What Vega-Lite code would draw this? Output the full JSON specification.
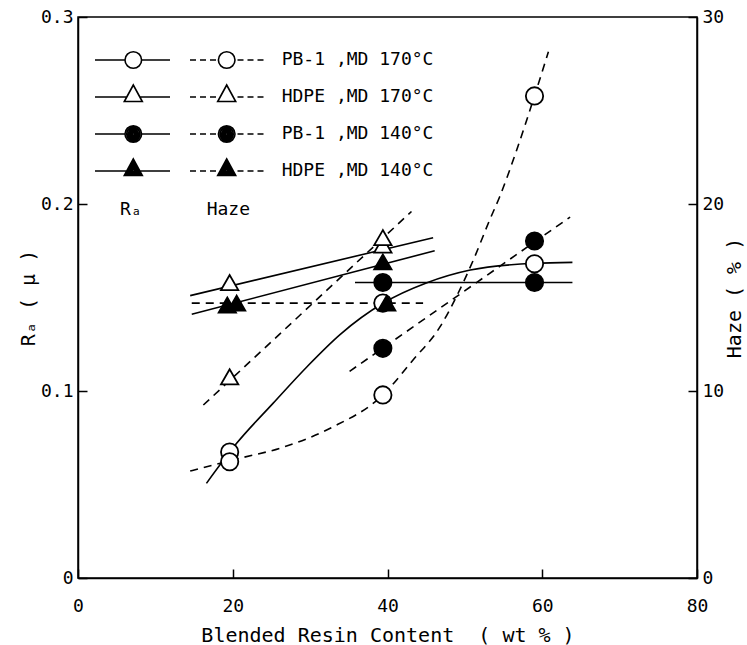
{
  "$schema": "https://vega.github.io/schema/vega-lite/v6.json",
  "width": 619,
  "height": 561,
  "autosize": {"type": "none"},
  "padding": {"left": 78, "top": 17, "right": 50, "bottom": 67},
  "background": "white",
  "config": {
    "view": {"stroke": "black", "strokeWidth": 1.5},
    "font": "DejaVu Sans Mono",
    "axis": {
      "domainColor": "black", "domainWidth": 1.5,
      "tickColor": "black", "tickWidth": 1.5, "tickSize": -9,
      "labelColor": "black", "labelFont": "DejaVu Sans Mono", "labelFontSize": 18,
      "titleFont": "DejaVu Sans Mono, DejaVu Sans", "titleFontSize": 20, "titleFontWeight": "normal", "titleColor": "black",
      "grid": false
    }
  },
  "data": {"values": [
    {"series": "PB-1 ,MD 170°C", "quantity": "Ra", "part": "curve", "content": 16.6, "value": 0.0506},
    {"series": "PB-1 ,MD 170°C", "quantity": "Ra", "part": "curve", "content": 20.5, "value": 0.0720},
    {"series": "PB-1 ,MD 170°C", "quantity": "Ra", "part": "curve", "content": 25.2, "value": 0.0934},
    {"series": "PB-1 ,MD 170°C", "quantity": "Ra", "part": "curve", "content": 29.6, "value": 0.1130},
    {"series": "PB-1 ,MD 170°C", "quantity": "Ra", "part": "curve", "content": 33.9, "value": 0.1303},
    {"series": "PB-1 ,MD 170°C", "quantity": "Ra", "part": "curve", "content": 39.4, "value": 0.1469},
    {"series": "PB-1 ,MD 170°C", "quantity": "Ra", "part": "curve", "content": 45.1, "value": 0.1579},
    {"series": "PB-1 ,MD 170°C", "quantity": "Ra", "part": "curve", "content": 50.7, "value": 0.1647},
    {"series": "PB-1 ,MD 170°C", "quantity": "Ra", "part": "curve", "content": 59.0, "value": 0.1683},
    {"series": "PB-1 ,MD 170°C", "quantity": "Ra", "part": "curve", "content": 63.9, "value": 0.1688},
    {"series": "HDPE ,MD 170°C", "quantity": "Ra", "part": "curve", "content": 14.5, "value": 0.151},
    {"series": "HDPE ,MD 170°C", "quantity": "Ra", "part": "curve", "content": 45.9, "value": 0.182},
    {"series": "PB-1 ,MD 140°C", "quantity": "Ra", "part": "curve", "content": 35.8, "value": 0.158},
    {"series": "PB-1 ,MD 140°C", "quantity": "Ra", "part": "curve", "content": 63.9, "value": 0.158},
    {"series": "HDPE ,MD 140°C", "quantity": "Ra", "part": "curve", "content": 14.7, "value": 0.141},
    {"series": "HDPE ,MD 140°C", "quantity": "Ra", "part": "curve", "content": 46.1, "value": 0.175},

    {"series": "PB-1 ,MD 170°C", "quantity": "Haze", "part": "curve", "content": 14.5, "value": 5.72},
    {"series": "PB-1 ,MD 170°C", "quantity": "Haze", "part": "curve", "content": 20.9, "value": 6.40},
    {"series": "PB-1 ,MD 170°C", "quantity": "Haze", "part": "curve", "content": 26.1, "value": 6.94},
    {"series": "PB-1 ,MD 170°C", "quantity": "Haze", "part": "curve", "content": 32.6, "value": 8.01},
    {"series": "PB-1 ,MD 170°C", "quantity": "Haze", "part": "curve", "content": 39.4, "value": 9.79},
    {"series": "PB-1 ,MD 170°C", "quantity": "Haze", "part": "curve", "content": 43.3, "value": 11.66},
    {"series": "PB-1 ,MD 170°C", "quantity": "Haze", "part": "curve", "content": 46.8, "value": 13.44},
    {"series": "PB-1 ,MD 170°C", "quantity": "Haze", "part": "curve", "content": 48.9, "value": 15.04},
    {"series": "PB-1 ,MD 170°C", "quantity": "Haze", "part": "curve", "content": 51.1, "value": 17.01},
    {"series": "PB-1 ,MD 170°C", "quantity": "Haze", "part": "curve", "content": 53.2, "value": 19.14},
    {"series": "PB-1 ,MD 170°C", "quantity": "Haze", "part": "curve", "content": 54.5, "value": 20.39},
    {"series": "PB-1 ,MD 170°C", "quantity": "Haze", "part": "curve", "content": 56.7, "value": 22.89},
    {"series": "PB-1 ,MD 170°C", "quantity": "Haze", "part": "curve", "content": 59.0, "value": 25.78},
    {"series": "PB-1 ,MD 170°C", "quantity": "Haze", "part": "curve", "content": 60.8, "value": 28.14},
    {"series": "HDPE ,MD 170°C", "quantity": "Haze", "part": "curve", "content": 16.2, "value": 9.25},
    {"series": "HDPE ,MD 170°C", "quantity": "Haze", "part": "curve", "content": 43.1, "value": 19.6},
    {"series": "PB-1 ,MD 140°C", "quantity": "Haze", "part": "curve", "content": 35.1, "value": 11.05},
    {"series": "PB-1 ,MD 140°C", "quantity": "Haze", "part": "curve", "content": 63.6, "value": 19.3},
    {"series": "HDPE ,MD 140°C", "quantity": "Haze", "part": "curve", "content": 14.7, "value": 14.7},
    {"series": "HDPE ,MD 140°C", "quantity": "Haze", "part": "curve", "content": 44.6, "value": 14.7},

    {"series": "PB-1 ,MD 170°C", "quantity": "Ra", "part": "point", "content": 19.6, "value": 0.0674},
    {"series": "PB-1 ,MD 170°C", "quantity": "Ra", "part": "point", "content": 39.4, "value": 0.147},
    {"series": "PB-1 ,MD 170°C", "quantity": "Ra", "part": "point", "content": 59.0, "value": 0.168},
    {"series": "HDPE ,MD 170°C", "quantity": "Ra", "part": "point", "content": 19.6, "value": 0.158},
    {"series": "HDPE ,MD 170°C", "quantity": "Ra", "part": "point", "content": 39.4, "value": 0.178},
    {"series": "PB-1 ,MD 140°C", "quantity": "Ra", "part": "point", "content": 39.4, "value": 0.158},
    {"series": "PB-1 ,MD 140°C", "quantity": "Ra", "part": "point", "content": 59.0, "value": 0.158},
    {"series": "HDPE ,MD 140°C", "quantity": "Ra", "part": "point", "content": 19.3, "value": 0.146},
    {"series": "HDPE ,MD 140°C", "quantity": "Ra", "part": "point", "content": 39.4, "value": 0.169},

    {"series": "PB-1 ,MD 170°C", "quantity": "Haze", "part": "point", "content": 19.6, "value": 6.22},
    {"series": "PB-1 ,MD 170°C", "quantity": "Haze", "part": "point", "content": 39.4, "value": 9.79},
    {"series": "PB-1 ,MD 170°C", "quantity": "Haze", "part": "point", "content": 59.0, "value": 25.78},
    {"series": "HDPE ,MD 170°C", "quantity": "Haze", "part": "point", "content": 19.6, "value": 10.76},
    {"series": "HDPE ,MD 170°C", "quantity": "Haze", "part": "point", "content": 39.4, "value": 18.2},
    {"series": "PB-1 ,MD 140°C", "quantity": "Haze", "part": "point", "content": 39.4, "value": 12.28},
    {"series": "PB-1 ,MD 140°C", "quantity": "Haze", "part": "point", "content": 59.0, "value": 18.02},
    {"series": "HDPE ,MD 140°C", "quantity": "Haze", "part": "point", "content": 20.5, "value": 14.7},
    {"series": "HDPE ,MD 140°C", "quantity": "Haze", "part": "point", "content": 39.9, "value": 14.7}
  ]},
  "layer": [
    {
      "transform": [{"filter": "datum.quantity === 'Ra' && datum.part === 'curve'"}],
      "mark": {"type": "line", "interpolate": "monotone", "color": "black", "strokeWidth": 1.6},
      "encoding": {
        "x": {"field": "content", "type": "quantitative", "scale": {"domain": [0, 80], "nice": false},
              "axis": {"values": [0, 20, 40, 60, 80], "labelFlush": false, "labelPadding": 28, "titlePadding": 10,
                       "title": "Blended Resin Content\u00a0\u00a0( wt % )"}},
        "y": {"field": "value", "type": "quantitative", "scale": {"domain": [0, 0.3], "nice": false},
              "axis": {"orient": "left", "values": [0, 0.1, 0.2, 0.3], "labelPadding": 14, "titlePadding": 2,
                       "labelExpr": "datum.value === 0 ? '0' : format(datum.value, '.1f')",
                       "title": "R\u2090 ( \u03bc )"}},
        "detail": {"field": "series"}
      }
    },
    {
      "transform": [{"filter": "datum.quantity === 'Haze' && datum.part === 'curve'"}],
      "mark": {"type": "line", "interpolate": "monotone", "color": "black", "strokeWidth": 1.6, "strokeDash": [8, 6]},
      "encoding": {
        "x": {"field": "content", "type": "quantitative", "scale": {"domain": [0, 80], "nice": false},
              "axis": {"values": [0, 20, 40, 60, 80], "labelFlush": false, "labelPadding": 28, "titlePadding": 10,
                       "title": "Blended Resin Content\u00a0\u00a0( wt % )"}},
        "y": {"field": "value", "type": "quantitative", "scale": {"domain": [0, 30], "nice": false},
              "axis": {"orient": "right", "values": [0, 10, 20, 30], "labelPadding": 14, "titlePadding": 21,
                       "titleAngle": 270, "title": "Haze ( % )"}},
        "detail": {"field": "series"}
      }
    },
    {
      "transform": [{"filter": "datum.quantity === 'Ra' && datum.part === 'point'"}],
      "mark": {"type": "point", "filled": true, "size": 300, "stroke": "black", "strokeWidth": 1.8, "opacity": 1},
      "encoding": {
        "x": {"field": "content", "type": "quantitative", "scale": {"domain": [0, 80], "nice": false},
              "axis": {"values": [0, 20, 40, 60, 80], "labelFlush": false, "labelPadding": 28, "titlePadding": 10,
                       "title": "Blended Resin Content\u00a0\u00a0( wt % )"}},
        "y": {"field": "value", "type": "quantitative", "scale": {"domain": [0, 0.3], "nice": false}, "axis": null},
        "shape": {"field": "series", "type": "nominal",
                  "scale": {"domain": ["PB-1 ,MD 170°C", "HDPE ,MD 170°C", "PB-1 ,MD 140°C", "HDPE ,MD 140°C"],
                            "range": ["circle", "triangle-up", "circle", "triangle-up"]},
                  "legend": null},
        "fill": {"field": "series", "type": "nominal",
                 "scale": {"domain": ["PB-1 ,MD 170°C", "HDPE ,MD 170°C", "PB-1 ,MD 140°C", "HDPE ,MD 140°C"],
                           "range": ["white", "white", "black", "black"]},
                 "legend": null}
      }
    },
    {
      "transform": [{"filter": "datum.quantity === 'Haze' && datum.part === 'point'"}],
      "mark": {"type": "point", "filled": true, "size": 300, "stroke": "black", "strokeWidth": 1.8, "opacity": 1},
      "encoding": {
        "x": {"field": "content", "type": "quantitative", "scale": {"domain": [0, 80], "nice": false},
              "axis": {"values": [0, 20, 40, 60, 80], "labelFlush": false, "labelPadding": 28, "titlePadding": 10,
                       "title": "Blended Resin Content\u00a0\u00a0( wt % )"}},
        "y": {"field": "value", "type": "quantitative", "scale": {"domain": [0, 30], "nice": false}, "axis": null},
        "shape": {"field": "series", "type": "nominal",
                  "scale": {"domain": ["PB-1 ,MD 170°C", "HDPE ,MD 170°C", "PB-1 ,MD 140°C", "HDPE ,MD 140°C"],
                            "range": ["circle", "triangle-up", "circle", "triangle-up"]},
                  "legend": null},
        "fill": {"field": "series", "type": "nominal",
                 "scale": {"domain": ["PB-1 ,MD 170°C", "HDPE ,MD 170°C", "PB-1 ,MD 140°C", "HDPE ,MD 140°C"],
                           "range": ["white", "white", "black", "black"]},
                 "legend": null}
      }
    },
    {
      "transform": [{"filter": "datum.part === 'legend-only'"}],
      "mark": {"type": "point", "filled": false, "color": "black", "size": 400, "strokeWidth": 1.6, "opacity": 1},
      "encoding": {
        "x": {"field": "content", "type": "quantitative", "scale": {"domain": [0, 80], "nice": false},
              "axis": {"values": [0, 20, 40, 60, 80], "labelFlush": false, "labelPadding": 28, "titlePadding": 10,
                       "title": "Blended Resin Content\u00a0\u00a0( wt % )"}},
        "y": {"field": "value", "type": "quantitative", "scale": {"domain": [0, 0.3], "nice": false}, "axis": null},
        "shape": {"field": "series", "type": "nominal",
                  "scale": {"domain": ["PB-1 ,MD 170°C", "HDPE ,MD 170°C", "PB-1 ,MD 140°C", "HDPE ,MD 140°C"],
                            "range": [
                              "M-3.6,-1.3L-3.6,-1.3M-3.6,1L-3.6,1M-3.6,0L-0.6,0M1.06,0L3.9,0M5.9,0L6.5,0M6.9,0L7.5,0M7.9,0L8.5,0M10.65,0L11.25,0M11.65,0L12.25,0M12.65,0L13.25,0M-0.6,0A0.83,0.83 0 1,0 1.06,0A0.83,0.83 0 1,0 -0.6,0ZM8.74,0A0.83,0.83 0 1,0 10.4,0A0.83,0.83 0 1,0 8.74,0Z",
                              "M-3.6,-1.3L-3.6,-1.3M-3.6,1L-3.6,1M-3.6,0L-0.425,0M0.885,0L3.9,0M5.9,0L6.5,0M6.9,0L7.5,0M7.9,0L8.5,0M10.65,0L11.25,0M11.65,0L12.25,0M12.65,0L13.25,0M0.23,-1.2L-0.67,0.45L1.13,0.45ZM9.57,-1.2L8.67,0.45L10.47,0.45Z",
                              "M-3.6,-1.3L-3.6,-1.3M-3.6,1L-3.6,1M-3.6,0L-0.6,0M1.06,0L3.9,0M5.9,0L6.5,0M6.9,0L7.5,0M7.9,0L8.5,0M10.65,0L11.25,0M11.65,0L12.25,0M12.65,0L13.25,0M-0.6,0A0.83,0.83 0 1,0 1.06,0A0.83,0.83 0 1,0 -0.6,0ZM-0.43,0A0.66,0.66 0 1,0 0.89,0A0.66,0.66 0 1,0 -0.43,0ZM-0.27,0A0.5,0.5 0 1,0 0.73,0A0.5,0.5 0 1,0 -0.27,0ZM-0.11,0A0.34,0.34 0 1,0 0.57,0A0.34,0.34 0 1,0 -0.11,0ZM0.05,0A0.18,0.18 0 1,0 0.41,0A0.18,0.18 0 1,0 0.05,0ZM0.18,0A0.05,0.05 0 1,0 0.28,0A0.05,0.05 0 1,0 0.18,0ZM8.74,0A0.83,0.83 0 1,0 10.4,0A0.83,0.83 0 1,0 8.74,0ZM8.91,0A0.66,0.66 0 1,0 10.23,0A0.66,0.66 0 1,0 8.91,0ZM9.07,0A0.5,0.5 0 1,0 10.07,0A0.5,0.5 0 1,0 9.07,0ZM9.23,0A0.34,0.34 0 1,0 9.91,0A0.34,0.34 0 1,0 9.23,0ZM9.39,0A0.18,0.18 0 1,0 9.75,0A0.18,0.18 0 1,0 9.39,0ZM9.52,0A0.05,0.05 0 1,0 9.62,0A0.05,0.05 0 1,0 9.52,0Z",
                              "M-3.6,-1.3L-3.6,-1.3M-3.6,1L-3.6,1M-3.6,0L-0.425,0M0.885,0L3.9,0M5.9,0L6.5,0M6.9,0L7.5,0M7.9,0L8.5,0M10.65,0L11.25,0M11.65,0L12.25,0M12.65,0L13.25,0M0.23,-1.2L-0.67,0.45L1.13,0.45ZM0.23,-0.98L-0.49,0.34L0.95,0.34ZM0.23,-0.76L-0.31,0.23L0.77,0.23ZM0.23,-0.54L-0.13,0.12L0.59,0.12ZM0.23,-0.32L0.05,0.01L0.41,0.01ZM9.57,-1.2L8.67,0.45L10.47,0.45ZM9.57,-0.98L8.85,0.34L10.29,0.34ZM9.57,-0.76L9.03,0.23L10.11,0.23ZM9.57,-0.54L9.21,0.12L9.93,0.12ZM9.57,-0.32L9.39,0.01L9.75,0.01Z"
                            ]},
                  "legend": {
                    "orient": "none", "legendX": 42, "legendY": 32, "direction": "vertical", "columns": 1,
                    "padding": 0, "rowPadding": 6,
                    "title": "R\u2090\u00a0\u00a0\u00a0\u00a0\u00a0\u00a0Haze",
                    "titleOrient": "bottom", "titleAnchor": "start", "titlePadding": 17,
                    "titleFont": "DejaVu Sans Mono, DejaVu Sans", "titleFontSize": 18, "titleFontWeight": "normal", "titleColor": "black",
                    "labelFont": "DejaVu Sans Mono", "labelFontSize": 18, "labelColor": "black", "labelOffset": 139.7, "labelLimit": 0,
                    "symbolSize": 400, "symbolStrokeWidth": 1.6, "symbolStrokeColor": "black", "symbolOpacity": 1
                  }}
      }
    }
  ],
  "resolve": {"scale": {"y": "independent", "shape": "independent"}, "axis": {"y": "independent"}, "legend": {"shape": "independent"}}
}
